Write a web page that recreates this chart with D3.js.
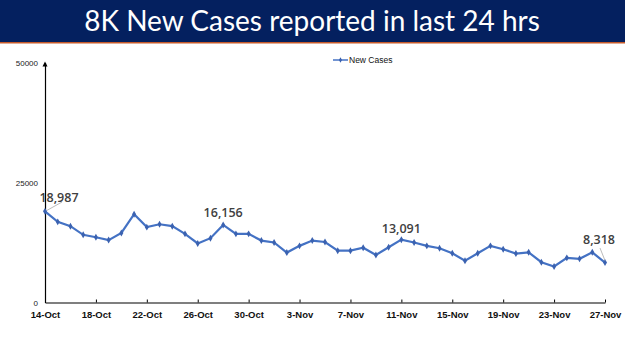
<!DOCTYPE html>
<html><head><meta charset="utf-8">
<script src="https://cdn.jsdelivr.net/npm/d3@7"></script>
<style>body{margin:0;background:#fff}svg{display:block}</style>
</head><body>
<svg id="c" width="625" height="351"></svg>
<script>
const titleText = "8K New Cases reported in last 24 hrs";
const seriesName = "New Cases";
const startDate = "2020-10-14";
const values = [18987,16800,15900,14100,13600,13000,14500,18400,15700,16300,15900,14300,12300,13400,16156,14300,14300,12900,12500,10400,11800,12900,12600,10800,10800,11400,9900,11500,13091,12500,11800,11300,10250,8700,10250,11800,11100,10200,10450,8400,7500,9300,9100,10450,8318];
const yTicks = [0,25000,50000];
const labelIdx = [0,14,28,44];

const fmtTick = d3.timeFormat("%-d-%b");
const parse = d3.timeParse("%Y-%m-%d");
const d0 = parse(startDate);
const dates = values.map((v,i)=>d3.timeDay.offset(d0,i));
const data = values.map((v,i)=>({date:dates[i],value:v}));

const svg = d3.select("#c");
// banner
svg.append("rect").attr("x",0).attr("y",0).attr("width",625).attr("height",42).attr("fill","#04205f");
svg.append("rect").attr("x",0).attr("y",42).attr("width",625).attr("height",1.5).attr("fill","#c55a2a");
svg.append("text").attr("x",312).attr("y",31).attr("text-anchor","middle")
  .attr("fill","#fff").attr("font-family","Lato, 'Open Sans', sans-serif").attr("font-size",28)
  .text(titleText);

const x = d3.scaleTime().domain([dates[0],dates[dates.length-1]]).range([45,605]);
const y = d3.scaleLinear().domain([0,50000]).range([302.5,62.5]);

// x axis
const xa = svg.append("g").attr("transform","translate(0,302.5)")
  .call(d3.axisBottom(x).tickValues(dates.filter((d,i)=>i%4===0)).tickFormat(fmtTick).tickSize(3).tickSizeOuter(0));
xa.select(".domain").attr("stroke","#000").attr("stroke-width",1.2);
xa.selectAll(".tick line").attr("stroke","#000").attr("y1",-3).attr("y2",0);
xa.selectAll("text").attr("font-family","'Liberation Sans', Arial, sans-serif").attr("font-weight","bold")
  .attr("font-size",9.5).attr("fill","#111").attr("dy","1.05em");

// y axis
const ya = svg.append("g").attr("transform","translate(45,0)")
  .call(d3.axisLeft(y).tickValues(yTicks).tickSize(0).tickFormat(d3.format("d")));
ya.select(".domain").attr("stroke","#000").attr("stroke-width",1.2);
ya.selectAll("text").attr("font-family","'Liberation Sans', Arial, sans-serif").attr("font-size",8)
  .attr("fill","#222").attr("x",-7);
// arrow head
svg.append("path").attr("d",`M42.5,${y(50000)+4} L45,${y(50000)-1} L47.5,${y(50000)+4} Z`).attr("fill","#000");

// line
const line = d3.line().x(d=>x(d.date)).y(d=>y(d.value));
svg.append("path").datum(data).attr("d",line).attr("fill","none").attr("stroke","#4472c4").attr("stroke-width",2.2);
svg.append("g").selectAll("path").data(data).join("path")
  .attr("transform",d=>`translate(${x(d.date)},${y(d.value)})`)
  .attr("d",d3.symbol(d3.symbolDiamond,14)).attr("fill","#3b62b0");

// data labels
const lab = [
  {i:0, dx:14, dy:-9, lx:62, ly:202},
  {i:14, dx:0, dy:-8},
  {i:28, dx:0, dy:-7},
  {i:44, dx:-6, dy:-19, lx:600, ly:248}
];
lab.forEach(l=>{
  const d = data[l.i];
  const px = x(d.date), py = y(d.value);
  if(l.lx!==undefined){
    svg.append("line").attr("x1",px+(l.i===0?2:0)).attr("y1",py-(l.i===0?1:2)).attr("x2",l.lx).attr("y2",l.ly)
      .attr("stroke","#aaa").attr("stroke-width",0.8);
  }
  svg.append("text").attr("x",px+l.dx).attr("y",py+l.dy).attr("text-anchor","middle")
    .attr("font-family","'Open Sans', 'Liberation Sans', sans-serif").attr("font-weight","600")
    .attr("font-size",12.5).attr("fill","#404040").text(d3.format(",")(d.value));
});

// legend
svg.append("line").attr("x1",333).attr("x2",348).attr("y1",60).attr("y2",60).attr("stroke","#4472c4").attr("stroke-width",1.5);
svg.append("path").attr("transform","translate(340.5,60)").attr("d",d3.symbol(d3.symbolDiamond,8)).attr("fill","#3b62b0");
svg.append("text").attr("x",349).attr("y",63).attr("font-family","'Liberation Sans', Arial, sans-serif")
  .attr("font-size",8.5).attr("fill","#111").text(seriesName);
</script>
</body></html>
